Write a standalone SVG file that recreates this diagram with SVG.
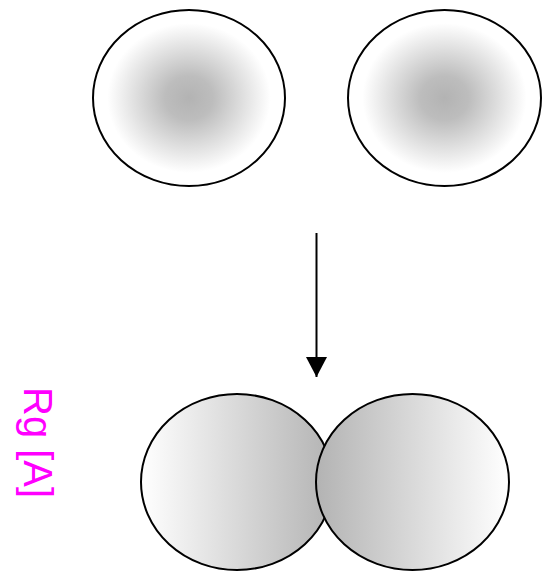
<svg xmlns="http://www.w3.org/2000/svg" width="556" height="573" viewBox="0 0 556 573">
<style>
.n{stroke:#000;stroke-width:2}
.c{stroke:#000;stroke-width:2;fill:none}
.lbl{font-family:"Liberation Sans",Arial,sans-serif;font-size:40px;fill:#ff00ff}
</style>
<defs>
<radialGradient id="rg" cx="0.5" cy="0.5" r="0.5">
<stop offset="0" stop-color="#b3b3b3"/>
<stop offset="0.25" stop-color="#bdbdbd"/>
<stop offset="0.85" stop-color="#ffffff"/>
</radialGradient>
<linearGradient id="lgR" x1="0" y1="0" x2="1" y2="0">
<stop offset="0" stop-color="#ffffff"/>
<stop offset="1" stop-color="#b3b3b3"/>
</linearGradient>
<linearGradient id="lgL" x1="0" y1="0" x2="1" y2="0">
<stop offset="0" stop-color="#b3b3b3"/>
<stop offset="1" stop-color="#ffffff"/>
</linearGradient>
<marker id="ah" markerUnits="userSpaceOnUse" markerWidth="22" markerHeight="22" refX="20" refY="10.5" orient="auto">
<path d="M0,0 L20,10.5 L0,21 Z" fill="#000"/>
</marker>
</defs>
<g id="atom1"><ellipse class="n" cx="189" cy="98" rx="96" ry="88" fill="url(#rg)"/></g>
<g id="atom2"><ellipse class="n" cx="444.5" cy="98" rx="96.5" ry="88" fill="url(#rg)"/></g>
<g id="connectors"><line class="c" x1="316.5" y1="233" x2="316.5" y2="377" marker-end="url(#ah)"/></g>
<g id="merged1"><ellipse class="n" cx="237" cy="482" rx="96" ry="88" fill="url(#lgR)"/></g>
<g id="merged2"><ellipse class="n" cx="412.5" cy="482" rx="96.5" ry="88" fill="url(#lgL)"/></g>
<g id="label"><text class="lbl" transform="translate(24,387) rotate(90)">Rg [A]</text></g>
</svg>
